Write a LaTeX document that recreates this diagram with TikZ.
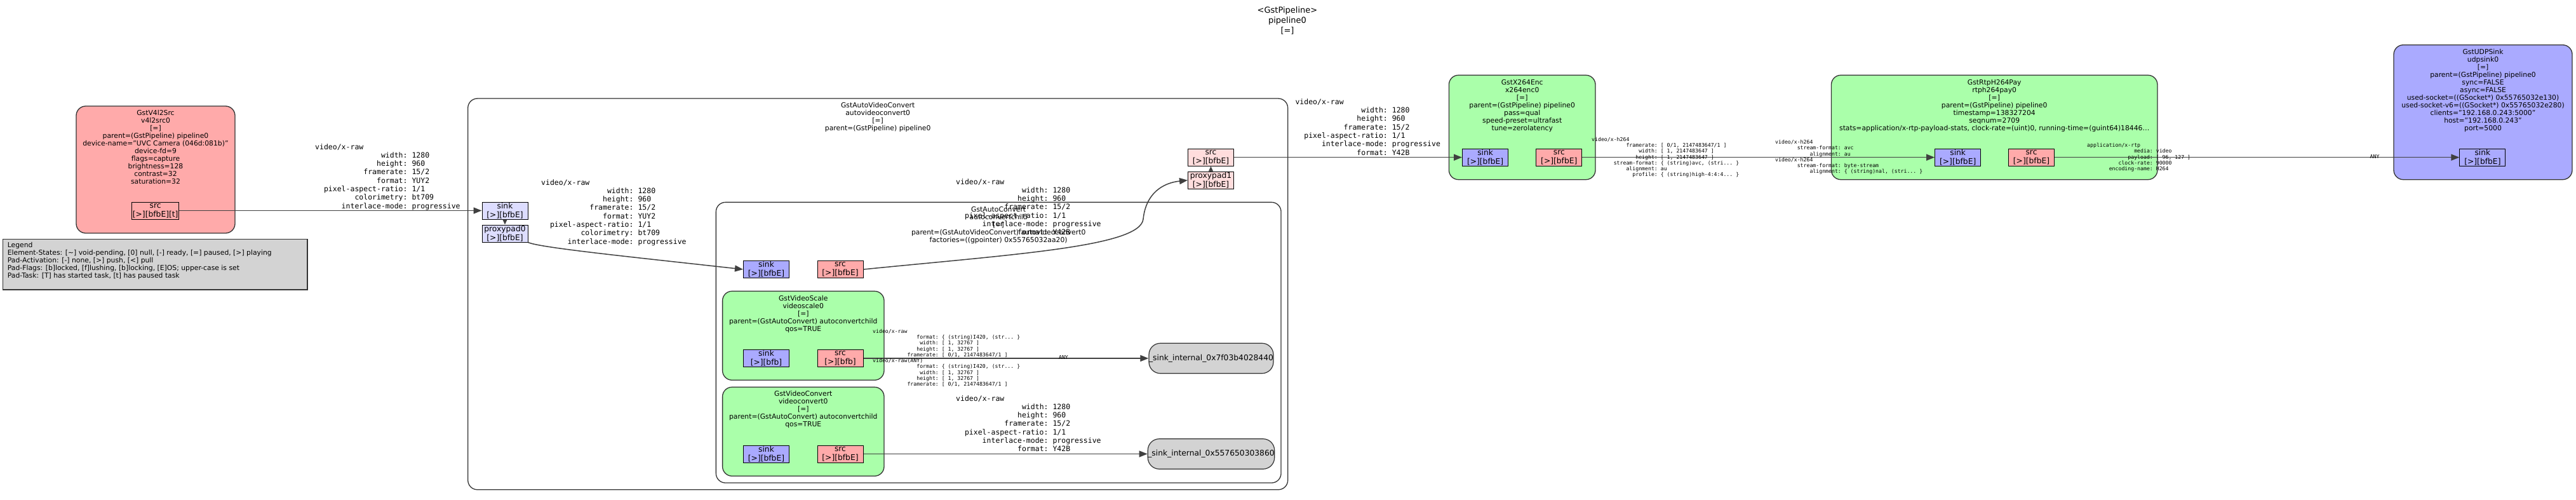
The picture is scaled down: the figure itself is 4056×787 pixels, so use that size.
\documentclass[tikz,border=0pt]{standalone}
\usepackage{fontspec}
\setmainfont{DejaVu Sans}
\setmonofont{DejaVu Sans Mono}
\usetikzlibrary{arrows.meta}

\definecolor{srcred}{HTML}{FFAAAA}
\definecolor{filtgreen}{HTML}{AAFFAA}
\definecolor{sinkblue}{HTML}{AAAAFF}
\definecolor{ghostred}{HTML}{FFDDDD}
\definecolor{ghostblue}{HTML}{DDDDFF}
\definecolor{padgray}{HTML}{D3D3D3}

% one caps field, name right aligned in 20 mono chars
\newcommand{\capf}[2]{\makebox[12.04em][r]{#1}: #2}

\tikzset{
  elem/.style={draw=black!80, line width=1.3pt, rounded corners=15pt, inner sep=0pt},
  bin/.style={elem, fill=white},
  eltext/.style={anchor=north, align=center, inner sep=0pt,
    font=\fontsize{10.8}{12}\selectfont},
  titletext/.style={anchor=north, align=center, inner sep=0pt,
    font=\fontsize{13}{16}\selectfont},
  pad/.style={draw=black, line width=1pt, inner sep=0pt, align=center,
    minimum width=72pt, minimum height=27pt,
    font=\fontsize{12.3}{14}\selectfont},
  internalpad/.style={pad, draw=black!80, line width=1.2pt, fill=padgray,
    rounded corners=18pt, minimum width=196pt, minimum height=47.5pt},
  legendbox/.style={draw=black!80, line width=1.2pt, fill=padgray,
    minimum width=479.3pt, minimum height=79.3pt, inner sep=0pt},
  capsbig/.style={anchor=north west, align=left, inner sep=0pt,
    font=\ttfamily\fontsize{11.5}{13.3}\selectfont},
  capssmall/.style={anchor=north west, align=left, inner sep=0pt,
    font=\ttfamily\fontsize{8.2}{9.3}\selectfont},
  link/.style={draw=black!75, line width=1.5pt, ->},
  shortlink/.style={draw=black!75, line width=1.3pt,
    -{Triangle[length=8pt,width=7pt]}}
}

\begin{document}
\begin{tikzpicture}[x=1pt,y=-1pt,>={Triangle[length=13pt,width=10pt]}]
  \useasboundingbox (0,0) rectangle (4056,787);

  % pipeline title
  \node[titletext] (pipe-title) at (2027,10.8)
    {<GstPipeline>\\pipeline0\\{[=]}};

  % legend
  \node[legendbox] (legend) at (244.3,416.3) {};
  \node[eltext, anchor=north west, align=left] (legend-text) at (11.7,381.5)
    {Legend\\
     Element-States: [\textasciitilde] void-pending, [0] null, [-] ready, [=] paused, [>] playing\\
     Pad-Activation: [-] none, [>] push, [<] pull\\
     Pad-Flags: [b]locked, [f]lushing, [b]locking, [E]OS; upper-case is set\\
     Pad-Task: [T] has started task, [t] has paused task};

  % v4l2src
  \node[elem, fill=srcred, minimum width=250pt, minimum height=200pt]
    (v4l2src) at (245,267) {};
  \node[eltext] (v4l2src-text) at (245,173)
    {GstV4l2Src\\v4l2src0\\{[=]}\\parent=(GstPipeline) pipeline0\\
     device-name="UVC Camera (046d:081b)"\\device-fd=9\\flags=capture\\
     brightness=128\\contrast=32\\saturation=32};
  \node[pad, fill=srcred, minimum width=74pt] (v4l2src-src) at (244.7,331.5)
    {src\\{}[>][bfbE][t]};

  % autovideoconvert bin
  \node[bin, minimum width=1291pt, minimum height=615.7pt]
    (avc) at (1382.2,462.9) {};
  \node[eltext] (avc-text) at (1382.2,160.6)
    {GstAutoVideoConvert\\autovideoconvert0\\{[=]}\\parent=(GstPipeline) pipeline0};
  \node[pad, fill=ghostblue] (avc-sink) at (795,331.5) {sink\\{}[>][bfbE]};
  \node[pad, fill=ghostblue] (avc-proxypad0) at (795,367.5) {proxypad0\\{}[>][bfbE]};
  \node[pad, fill=ghostred] (avc-src) at (1906.5,247.7) {src\\{}[>][bfbE]};
  \node[pad, fill=ghostred] (avc-proxypad1) at (1906.5,283.7) {proxypad1\\{}[>][bfbE]};

  % autoconvert bin inside
  \node[bin, minimum width=889.7pt, minimum height=441.7pt]
    (ac) at (1572.2,539.2) {};
  \node[eltext] (ac-text) at (1572.2,325)
    {GstAutoConvert\\autoconvertchild\\{[=]}\\
     parent=(GstAutoVideoConvert) autovideoconvert0\\
     factories=((gpointer) 0x55765032aa20)};
  \node[pad, fill=sinkblue] (ac-sink) at (1206.5,424) {sink\\{}[>][bfbE]};
  \node[pad, fill=srcred] (ac-src) at (1323,424) {src\\{}[>][bfbE]};

  % videoscale
  \node[elem, fill=filtgreen, minimum width=254.4pt, minimum height=140pt]
    (vscale) at (1264.8,528.3) {};
  \node[eltext] (vscale-text) at (1264.8,464.6)
    {GstVideoScale\\videoscale0\\{[=]}\\parent=(GstAutoConvert) autoconvertchild\\qos=TRUE};
  \node[pad, fill=sinkblue] (vscale-sink) at (1206.5,564) {sink\\{}[>][bfb]};
  \node[pad, fill=srcred] (vscale-src) at (1323,564) {src\\{}[>][bfb]};

  % videoconvert
  \node[elem, fill=filtgreen, minimum width=254.4pt, minimum height=140pt]
    (vconv) at (1264.8,679.3) {};
  \node[eltext] (vconv-text) at (1264.8,614.9)
    {GstVideoConvert\\videoconvert0\\{[=]}\\parent=(GstAutoConvert) autoconvertchild\\qos=TRUE};
  \node[pad, fill=sinkblue] (vconv-sink) at (1206.5,714.5) {sink\\{}[>][bfbE]};
  \node[pad, fill=srcred] (vconv-src) at (1323,714.5) {src\\{}[>][bfbE]};

  % internal pads
  \node[internalpad] (sint-a) at (1907,564) {\_sink\_internal\_0x7f03b4028440};
  \node[internalpad] (sint-b) at (1907,714.5) {\_sink\_internal\_0x557650303860};

  % x264enc
  \node[elem, fill=filtgreen, minimum width=230.6pt, minimum height=164.4pt]
    (x264) at (2396.7,200.5) {};
  \node[eltext] (x264-text) at (2396.7,124.9)
    {GstX264Enc\\x264enc0\\{[=]}\\parent=(GstPipeline) pipeline0\\pass=qual\\
     speed-preset=ultrafast\\tune=zerolatency};
  \node[pad, fill=sinkblue] (x264-sink) at (2338.6,247.7) {sink\\{}[>][bfbE]};
  \node[pad, fill=srcred] (x264-src) at (2454.8,247.7) {src\\{}[>][bfbE]};

  % rtph264pay
  \node[elem, fill=filtgreen, minimum width=513.5pt, minimum height=164.4pt]
    (rtppay) at (3140.2,200.5) {};
  \node[eltext] (rtppay-text) at (3140.2,124.9)
    {GstRtpH264Pay\\rtph264pay0\\{[=]}\\parent=(GstPipeline) pipeline0\\
     timestamp=138327204\\seqnum=2709\\
     stats=application/x-rtp-payload-stats, clock-rate=(uint)0, running-time=(guint64)18446…};
  \node[pad, fill=sinkblue] (rtppay-sink) at (3082.7,247.7) {sink\\{}[>][bfbE]};
  \node[pad, fill=srcred] (rtppay-src) at (3198.5,247.7) {src\\{}[>][bfbE]};

  % udpsink
  \node[elem, fill=sinkblue, minimum width=281pt, minimum height=212pt]
    (udpsink) at (3909.5,176.7) {};
  \node[eltext] (udpsink-text) at (3909.5,76.6)
    {GstUDPSink\\udpsink0\\{[=]}\\parent=(GstPipeline) pipeline0\\sync=FALSE\\
     async=FALSE\\used-socket=((GSocket*) 0x55765032e130)\\
     used-socket-v6=((GSocket*) 0x55765032e280)\\clients="192.168.0.243:5000"\\
     host="192.168.0.243"\\port=5000};
  \node[pad, fill=sinkblue] (udpsink-sink) at (3908.9,247.7) {sink\\{}[>][bfbE]};

  % links
  \draw[link] (v4l2src-src.east) -- (avc-sink.west);
  \draw[shortlink] (avc-sink.south) -- (avc-proxypad0.north);
  \draw[link] (avc-proxypad0.south east) .. controls (850,390) and (1000,405) .. (ac-sink.west);
  \draw[link] (ac-src.east) .. controls (1600,400) and (1795,388) .. (1800,345)
    .. controls (1804,305) and (1830,288) .. (avc-proxypad1.west);
  \draw[shortlink] (avc-proxypad1.north) -- (avc-src.south);
  \draw[link] (vscale-src.east) -- (sint-a.west);
  \draw[link] (vconv-src.east) -- (sint-b.west);
  \draw[link] (avc-src.east) -- (x264-sink.west);
  \draw[link] (x264-src.east) -- (rtppay-sink.west);
  \draw[link] (rtppay-src.east) -- (udpsink-sink.west);

  % caps labels
  \node[capsbig] (caps-v4l2) at (496,226.1)
    {video/x-raw\\\capf{width}{1280}\\\capf{height}{960}\\\capf{framerate}{15/2}\\
     \capf{format}{YUY2}\\\capf{pixel-aspect-ratio}{1/1}\\\capf{colorimetry}{bt709}\\
     \capf{interlace-mode}{progressive}};
  \node[capsbig] (caps-avc-in) at (852,282.1)
    {video/x-raw\\\capf{width}{1280}\\\capf{height}{960}\\\capf{framerate}{15/2}\\
     \capf{format}{YUY2}\\\capf{pixel-aspect-ratio}{1/1}\\\capf{colorimetry}{bt709}\\
     \capf{interlace-mode}{progressive}};
  \node[capsbig] (caps-avc-out) at (1505,281.1)
    {video/x-raw\\\capf{width}{1280}\\\capf{height}{960}\\\capf{framerate}{15/2}\\
     \capf{pixel-aspect-ratio}{1/1}\\\capf{interlace-mode}{progressive}\\\capf{format}{Y42B}};
  \node[capsbig] (caps-vconv) at (1505,622.1)
    {video/x-raw\\\capf{width}{1280}\\\capf{height}{960}\\\capf{framerate}{15/2}\\
     \capf{pixel-aspect-ratio}{1/1}\\\capf{interlace-mode}{progressive}\\\capf{format}{Y42B}};
  \node[capsbig] (caps-x264-in) at (2039.3,155.4)
    {video/x-raw\\\capf{width}{1280}\\\capf{height}{960}\\\capf{framerate}{15/2}\\
     \capf{pixel-aspect-ratio}{1/1}\\\capf{interlace-mode}{progressive}\\\capf{format}{Y42B}};
  \node[capssmall] (caps-vscale) at (1374,517.7)
    {video/x-raw\\\capf{format}{\{ (string)I420, (str... \}}\\\capf{width}{[ 1, 32767 ]}\\
     \capf{height}{[ 1, 32767 ]}\\\capf{framerate}{[ 0/1, 2147483647/1 ]}\\
     video/x-raw(ANY)\\\capf{format}{\{ (string)I420, (str... \}}\\\capf{width}{[ 1, 32767 ]}\\
     \capf{height}{[ 1, 32767 ]}\\\capf{framerate}{[ 0/1, 2147483647/1 ]}};
  \node[capssmall, anchor=center] (caps-sint-any) at (1674.5,562.7) {ANY};
  \node[capssmall] (caps-x264-out) at (2506,215.7)
    {video/x-h264\\\capf{framerate}{[ 0/1, 2147483647/1 ]}\\\capf{width}{[ 1, 2147483647 ]}\\
     \capf{height}{[ 1, 2147483647 ]}\\\capf{stream-format}{\{ (string)avc, (stri... \}}\\
     \capf{alignment}{au}\\\capf{profile}{\{ (string)high-4:4:4... \}}};
  \node[capssmall] (caps-rtppay-in) at (2795,220)
    {video/x-h264\\\capf{stream-format}{avc}\\\capf{alignment}{au}\\
     video/x-h264\\\capf{stream-format}{byte-stream}\\\capf{alignment}{\{ (string)nal, (stri... \}}};
  \node[capssmall] (caps-rtppay-out) at (3286,225)
    {application/x-rtp\\\capf{media}{video}\\\capf{payload}{[ 96, 127 ]}\\
     \capf{clock-rate}{90000}\\\capf{encoding-name}{H264}};
  \node[capssmall, anchor=center] (caps-udp-any) at (3739,246.7) {ANY};
\end{tikzpicture}
\end{document}
